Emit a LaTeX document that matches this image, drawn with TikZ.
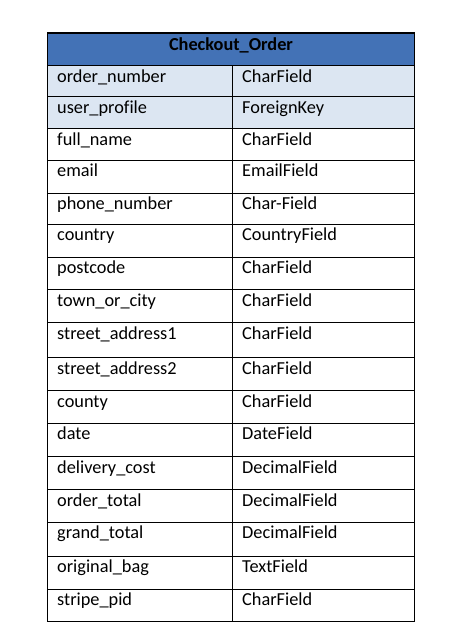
\documentclass[tikz,border=0pt]{standalone}
\usepackage{fontspec}
\setmainfont[Ligatures=NoCommon]{Carlito}
\definecolor{hdrblue}{HTML}{4372B6}
\definecolor{rowblue}{HTML}{DCE6F2}
\begin{document}
\begin{tikzpicture}[x=1pt,y=-1pt,
  cell/.style={anchor=base west,inner sep=0pt,font=\fontsize{18.3}{22}\selectfont},
  hdr/.style={anchor=base,inner sep=0pt,font=\fontsize{18.3}{22}\selectfont\bfseries},
  grid/.style={draw=black,line width=1.0pt},
  frame/.style={draw=black,line width=1.4pt}]
\useasboundingbox[fill=white] (0,0) rectangle (456,640);
% fills
\fill[hdrblue] (47.3,33) rectangle (414.3,65.5);
\fill[rowblue] (47.3,65.5) rectangle (414.3,128.5);
% header
\node[hdr] (title) at (231,50) {Checkout\_Order};
% rows
\foreach \t/\b/\n/\ty [count=\i] in {
  65.5/96.5/order\_number/CharField,
  96.5/128.5/user\_profile/ForeignKey,
  128.5/160.2/full\_name/CharField,
  160.2/193.2/email/EmailField,
  193.2/224.3/phone\_number/Char-Field,
  224.3/257.4/country/CountryField,
  257.4/289.5/postcode/CharField,
  289.5/322.5/town\_or\_city/CharField,
  322.5/357.6/street\_address1/CharField,
  357.6/390.7/street\_address2/CharField,
  390.7/423.4/county/CharField,
  423.4/456.6/date/DateField,
  456.6/489.7/delivery\_cost/DecimalField,
  489.7/522.4/order\_total/DecimalField,
  522.4/556.4/grand\_total/DecimalField,
  556.4/589.1/original\_bag/TextField,
  589.1/621.5/stripe\_pid/CharField} {
  \draw[grid] (47.3,\t) -- (414.3,\t);
  \node[cell] (name\i) at (57,\t+16.5) {\n};
  \node[cell] (type\i) at (242,\t+16.5) {\ty};
}
% column divider
\draw[grid] (232.7,65.5) -- (232.7,621.5);
% outer frame
\draw[frame] (47.3,33) rectangle (414.3,621.5);
\end{tikzpicture}
\end{document}
